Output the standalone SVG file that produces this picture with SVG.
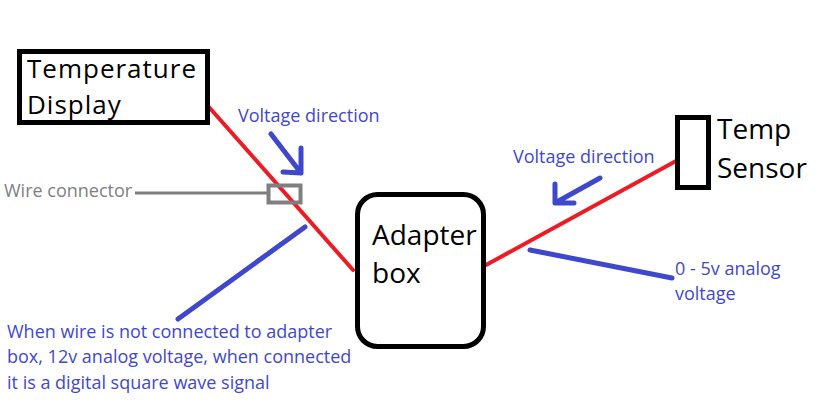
<svg xmlns="http://www.w3.org/2000/svg" width="832" height="417" viewBox="0 0 832 417">
<style>
.box{fill:#fff;stroke:#000;stroke-width:5}
.big{font-family:"Open Sans","Noto Sans","Liberation Sans",sans-serif;font-size:28px;fill:#000}
.td{font-size:26px;letter-spacing:1px}
.lbl{font-family:"Open Sans","Noto Sans","Liberation Sans",sans-serif;font-size:18px;fill:#3f48cc}
.gray{fill:#7f7f7f}
.red{stroke:#ed1c24;stroke-width:4;fill:none;stroke-linecap:round}
.blue{stroke:#3f48cc;stroke-width:5;fill:none;stroke-linecap:round;stroke-linejoin:round}
</style>
<rect width="832" height="417" fill="#fff"/>
<g id="connectors">
<line class="red" x1="208" y1="106" x2="353" y2="270"/>
<line class="red" x1="486" y1="265" x2="676" y2="161"/>
<line x1="135" y1="193" x2="268" y2="193" stroke="#7f7f7f" stroke-width="3"/>
<rect x="268.5" y="185.5" width="32" height="17" fill="none" stroke="#7f7f7f" stroke-width="4"/>
<path class="blue" d="M271 134 L301 173 M301 148 L301 173 L283 172"/>
<path class="blue" d="M600 178 L555 203 M555 184 L555 203 L574 203"/>
<line class="blue" x1="305" y1="227" x2="178" y2="319"/>
<line class="blue" x1="530" y1="250" x2="672" y2="278"/>
</g>
<g id="temperature-display">
<rect class="box" x="19.5" y="51.5" width="188" height="71"/>
<text class="big td" x="27" y="78">Temperature<tspan x="27" y="114">Display</tspan></text>
</g>
<g id="adapter-box">
<rect class="box" x="357.5" y="194.5" width="126" height="152" rx="20"/>
<text class="big" x="372" y="245">Adapter<tspan x="372" y="283">box</tspan></text>
</g>
<g id="temp-sensor">
<rect class="box" x="677.5" y="117.5" width="31" height="70"/>
<text class="big" x="717" y="139">Temp<tspan x="717" y="178">Sensor</tspan></text>
</g>
<g id="labels">
<text class="lbl" x="238" y="122">Voltage direction</text>
<text class="lbl" x="513" y="163">Voltage direction</text>
<text class="lbl gray" x="4" y="197">Wire connector</text>
<text class="lbl" x="675" y="275">0 - 5v analog<tspan x="675" y="300">voltage</tspan></text>
<text class="lbl" x="7" y="338">When wire is not connected to adapter<tspan x="7" y="363">box, 12v analog voltage, when connected</tspan><tspan x="7" y="389">it is a digital square wave signal</tspan></text>
</g>
</svg>
